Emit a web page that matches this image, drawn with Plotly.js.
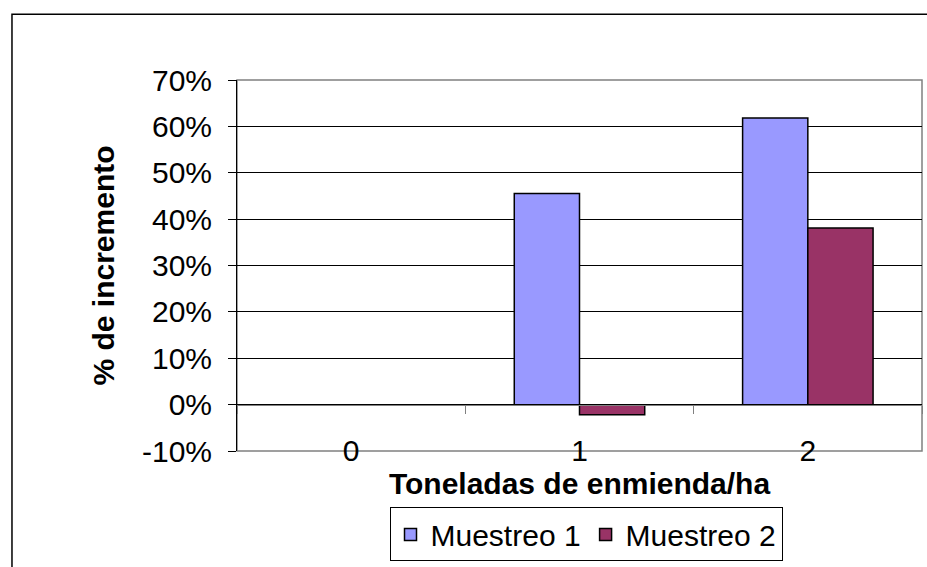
<!DOCTYPE html>
<html>
<head>
<meta charset="utf-8">
<script src="https://cdn.plot.ly/plotly-3.0.1.min.js"></script>
<style>html,body{margin:0;padding:0;background:#fff;}#chart{width:927px;height:567px;}</style>
</head>
<body>
<div id="chart"></div>
<script>
const categories = ['0', '1', '2'];
const muestreo1 = [null, 0.455, 0.618];
const muestreo2 = [null, -0.022, 0.381];
const seriesNames = ['Muestreo 1', 'Muestreo 2'];
const yTickVals = [-0.1, 0, 0.1, 0.2, 0.3, 0.4, 0.5, 0.6, 0.7];
const yTickText = ['-10%', '0%', '10%', '20%', '30%', '40%', '50%', '60%', '70%'];

const FONT = 'Liberation Sans, Arial, sans-serif';
const FS = 30;

const traces = [
  {type: 'bar', name: seriesNames[0], x: categories, y: muestreo1,
   marker: {color: '#9999FF', line: {color: '#000000', width: 1.5}}},
  {type: 'bar', name: seriesNames[1], x: categories, y: muestreo2,
   marker: {color: '#993366', line: {color: '#000000', width: 1.5}}}
];

const layout = {
  width: 927, height: 567,
  margin: {l: 237, r: 5, t: 80, b: 114},
  paper_bgcolor: '#ffffff', plot_bgcolor: '#ffffff',
  font: {family: FONT, size: FS, color: '#000000'},
  barmode: 'group', bargap: 0.4286, bargroupgap: 0,
  showlegend: true,
  legend: {orientation: 'h', x: 0.5095, y: -0.225, xanchor: 'center', yanchor: 'middle',
           bordercolor: '#000000', borderwidth: 1, font: {family: FONT, size: FS},
           itemwidth: 30, tracegroupgap: 0},
  xaxis: {type: 'category', anchor: 'free', position: 0.125,
          showline: true, linecolor: '#808080', linewidth: 1.5,
          ticks: 'outside', tickson: 'boundaries', ticklen: 8, tickcolor: '#808080', tickwidth: 1,
          showgrid: false, ticklabelstandoff: 19,
          tickfont: {family: FONT, size: FS},
          title: {text: 'Toneladas de enmienda/ha', font: {family: FONT, size: FS, weight: 'bold'}, standoff: 6}},
  yaxis: {range: [-0.1, 0.7], tickvals: yTickVals, ticktext: yTickText,
          showline: true, linecolor: '#000000', linewidth: 1,
          ticks: 'outside', ticklen: 8, tickcolor: '#000000',
          ticklabelstandoff: 10,
          showgrid: true, gridcolor: '#000000', gridwidth: 1, zeroline: false,
          tickfont: {family: FONT, size: FS},
          title: {text: '% de incremento', font: {family: FONT, size: FS, weight: 'bold'}, standoff: 18}},
  shapes: [
    {type: 'rect', xref: 'x domain', yref: 'y domain', x0: 0, x1: 1, y0: 0, y1: 1,
     line: {color: '#808080', width: 1.5}, layer: 'below'},
    {type: 'rect', xref: 'paper', yref: 'paper', x0: -0.3285, x1: 1.02, y0: -0.33, y1: 1.1774,
     line: {color: '#000000', width: 1.5}, layer: 'above'}
  ]
};

Plotly.newPlot('chart', traces, layout, {staticPlot: true});
</script>
</body>
</html>
